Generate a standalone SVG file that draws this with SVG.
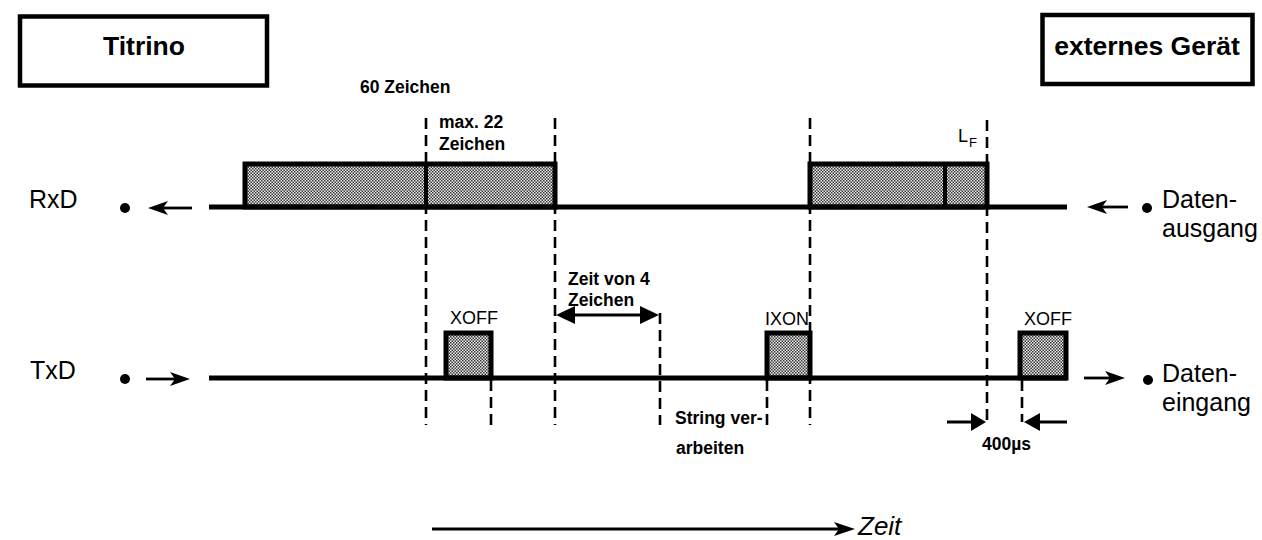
<svg xmlns="http://www.w3.org/2000/svg" width="1262" height="540" viewBox="0 0 1262 540">
<style>
  text { font-family: "Liberation Sans", Arial, sans-serif; fill: #000; }
  .box { fill: #fff; stroke: #000; stroke-width: 4.5; }
  .boxtxt { font-size: 26.5px; font-weight: bold; text-anchor: middle; }
  .sig { fill: none; stroke: #000; stroke-width: 5; stroke-linejoin: miter; }
  .pulse { fill: url(#stip); stroke: #000; stroke-width: 5; }
  .div { stroke: #000; stroke-width: 4; }
  .dash { stroke: #000; stroke-width: 2.6; stroke-dasharray: 11 6; fill: none; }
  .lbl { font-size: 17.5px; font-weight: bold; }
  .pl { font-size: 18px; }
  .big { font-size: 25px; }
  .ln { stroke: #000; stroke-width: 2.8; fill: none; }
  .head { fill: #000; stroke: none; }
</style>
<defs>
  <pattern id="stip" width="3" height="3" patternUnits="userSpaceOnUse">
    <rect width="3" height="3" fill="#e8e8e8"/>
    <rect x="0" y="0" width="1.5" height="1.5" fill="#3a3a3a"/>
    <rect x="1.5" y="1.5" width="1.5" height="1.5" fill="#3a3a3a"/>
  </pattern>
</defs>

<g id="titrino">
  <rect class="box" x="20" y="16.5" width="247" height="69"/>
  <text class="boxtxt" x="144" y="55">Titrino</text>
</g>
<g id="extern">
  <rect class="box" x="1042.5" y="15" width="210" height="69"/>
  <text class="boxtxt" x="1147" y="55">externes Gerät</text>
</g>

<g id="rxd">
  <text class="big" x="29" y="208">RxD</text>
  <circle cx="125" cy="208" r="5"/>
  <rect class="pulse" x="245" y="164" width="310" height="43"/>
  <line class="div" x1="426" y1="164" x2="426" y2="207"/>
  <rect class="pulse" x="810" y="164" width="177" height="43"/>
  <line class="div" x1="945" y1="164" x2="945" y2="207"/>
  <line class="sig" x1="209" y1="207" x2="1067" y2="207"/>
  <circle cx="1147" cy="208" r="5"/>
  <text class="big" x="1162" y="208">Daten-</text>
  <text class="big" x="1162" y="237">ausgang</text>
</g>

<g id="txd">
  <text class="big" x="30" y="379">TxD</text>
  <circle cx="125" cy="379" r="5"/>
  <rect class="pulse" x="446" y="333" width="45" height="45"/>
  <rect class="pulse" x="767" y="333" width="43" height="45"/>
  <rect class="pulse" x="1020" y="333" width="46" height="45"/>
  <line class="sig" x1="209" y1="378" x2="1067" y2="378"/>
  <circle cx="1148" cy="380" r="5"/>
  <text class="big" x="1162" y="382">Daten-</text>
  <text class="big" x="1162" y="411">eingang</text>
</g>

<g id="labels">
  <text class="lbl" x="360" y="93">60 Zeichen</text>
  <text class="lbl" x="439" y="128">max. 22</text>
  <text class="lbl" x="439" y="150">Zeichen</text>
  <text class="pl" x="958" y="142">L</text>
  <text x="969" y="147" style="font-size:13px">F</text>
  <text class="pl" x="450" y="324">XOFF</text>
  <text class="pl" x="765" y="325">IXON</text>
  <text class="pl" x="1024" y="325">XOFF</text>
  <text class="lbl" x="568" y="285">Zeit von 4</text>
  <text class="lbl" x="568" y="306">Zeichen</text>
  <text class="lbl" x="675" y="424">String ver-</text>
  <text class="lbl" x="676" y="454">arbeiten</text>
  <text class="lbl" x="982" y="450">400µs</text>
  <text x="858" y="535" style="font-size:26px;font-style:italic">Zeit</text>
</g>

<g id="connectors">
  <line class="dash" x1="426" y1="118" x2="426" y2="425"/>
  <line class="dash" x1="555" y1="118" x2="555" y2="425"/>
  <line class="dash" x1="810" y1="118" x2="810" y2="425"/>
  <line class="dash" x1="987" y1="120" x2="987" y2="422"/>
  <line class="dash" x1="491" y1="380" x2="491" y2="425"/>
  <line class="dash" x1="660" y1="313" x2="660" y2="425"/>
  <line class="dash" x1="767" y1="380" x2="767" y2="425"/>
  <line class="dash" x1="1022" y1="380" x2="1022" y2="422"/>

  <line class="ln" x1="160" y1="208" x2="192" y2="208"/>
  <path class="head" d="M148,208 L168,201 L163,208 L168,215 Z"/>
  <line class="ln" x1="146" y1="379" x2="178" y2="379"/>
  <path class="head" d="M190,379 L170,372 L175,379 L170,386 Z"/>
  <line class="ln" x1="1099" y1="207" x2="1128" y2="207"/>
  <path class="head" d="M1087,207 L1107,200 L1102,207 L1107,214 Z"/>
  <line class="ln" x1="1084" y1="378" x2="1113" y2="378"/>
  <path class="head" d="M1125,378 L1105,371 L1110,378 L1105,385 Z"/>

  <line class="ln" x1="565" y1="315" x2="650" y2="315" style="stroke-width:3"/>
  <path class="head" d="M556,315 L575,306 L575,324 Z"/>
  <path class="head" d="M659,315 L640,306 L640,324 Z"/>

  <line class="ln" x1="947" y1="422" x2="975" y2="422" style="stroke-width:3"/>
  <path class="head" d="M986,422 L971,413 L971,431 Z"/>
  <line class="ln" x1="1035" y1="422" x2="1067" y2="422" style="stroke-width:3"/>
  <path class="head" d="M1024,422 L1040,413 L1040,431 Z"/>

  <line class="ln" x1="432" y1="529" x2="842" y2="529"/>
  <path class="head" d="M855,529 L834,522 L839,529 L834,536 Z"/>
</g>
</svg>
